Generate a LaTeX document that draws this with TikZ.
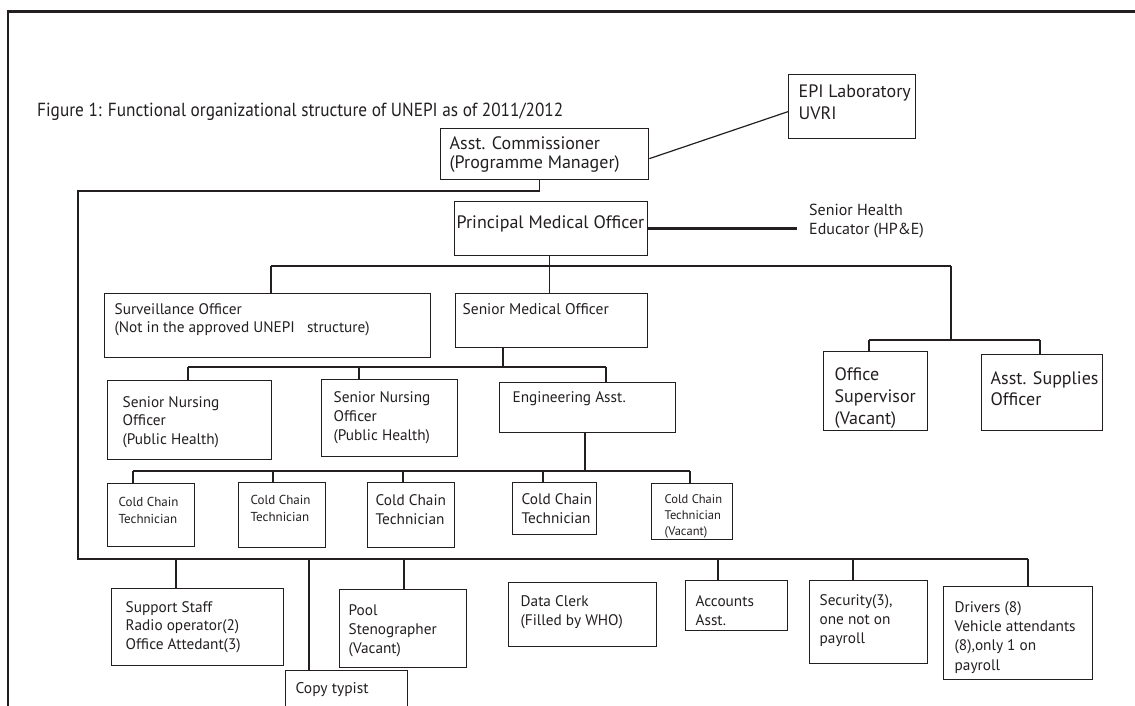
\documentclass[tikz,border=0pt]{standalone}
\usepackage{fontspec}
\usepackage{graphicx}
\setmainfont{PT Sans}
\usetikzlibrary{calc}
\definecolor{ink}{HTML}{231F20}
\hbadness=10000 \hfuzz=50pt \vbadness=10000 \vfuzz=50pt
% box content: #1 width, #2 height, #3 left pad, #4 first baseline from top, #5 font, #6 text
\newcommand\bx[6]{\parbox[t][#2][t]{#1}{#5\raggedright\leftskip=#3\relax\vspace*{\dimexpr#4-0.7\baselineskip\relax}\strut #6}}
\newcommand\fN{\fontsize{15.3}{19}\selectfont}
\newcommand\fNt{\fontsize{15.3}{18.5}\selectfont}
\newcommand\fL{\fontsize{18}{22}\selectfont}
\newcommand\fS{\fontsize{13}{16.5}\selectfont}
\newcommand\fXS{\fontsize{12.5}{16}\selectfont}
\begin{document}
\begin{tikzpicture}[x=1pt,y=-1pt,
  box/.style={draw=ink, line width=1.3pt, inner sep=0pt, anchor=north west, text=ink},
  plain/.style={inner sep=0pt, anchor=north west, text=ink},
  conn/.style={draw=ink, line width=1.2pt},
  thickconn/.style={draw=ink, line width=2.8pt}]
\useasboundingbox (0,0) rectangle (1135,705);
\clip (0,0) rectangle (1135,705);
% frame
\draw[ink, line width=2.6pt] (8,706) -- (8,11.5) -- (1136,11.5);
% title
\node[anchor=base west, inner sep=0pt, text=ink] (title) at (37,116)
  {\resizebox{526pt}{13.5pt}{\fontsize{18}{20}\selectfont Figure 1: Functional organizational structure of UNEPI as of 2011/2012}};
% top
\node[box] (epi) at (788,74) {\bx{127pt}{64pt}{10pt}{22.5pt}{\fL}{EPI Laboratory\\UVRI}};
\node[box] (ac) at (440,128) {\bx{208pt}{51pt}{9pt}{20.5pt}{\fontsize{18}{17.5}\selectfont}{Asst. Commissioner\\(Programme Manager)}};
\node[box] (pmo) at (454,201) {\bx{193pt}{54pt}{2pt}{26.5pt}{\fL}{Principal Medical Officer}};
\node[plain] (she) at (809,196) {\bx{130pt}{40pt}{0pt}{19pt}{\fontsize{16}{19}\selectfont}{Senior Health\\Educator (HP\&E)}};
% level 2
\node[box] (surv) at (104,293) {\bx{326pt}{64pt}{10pt}{20.6pt}{\fontsize{15.3}{18}\selectfont}{Surveillance Officer\\(Not in the approved UNEPI\ \ \ structure)}};
\node[box] (smo) at (455,293) {\bx{192pt}{54pt}{7pt}{20.6pt}{\fontsize{15.5}{18}\selectfont}{Senior Medical Officer}};
\node[box] (offsup) at (823,351) {\bx{104pt}{79pt}{11pt}{28.4pt}{\fL}{Office\\Supervisor\\(Vacant)}};
\node[box] (asup) at (981,354) {\bx{121pt}{76pt}{9pt}{29.4pt}{\fontsize{18}{21}\selectfont}{Asst. Supplies\\Officer}};
% level 3
\node[box] (sno1) at (107,380) {\bx{164pt}{79pt}{15pt}{26.6pt}{\fNt}{Senior Nursing\\Officer\\(Public Health)}};
\node[box] (sno2) at (321,379) {\bx{136pt}{77pt}{12pt}{22.6pt}{\fN}{Senior Nursing\\Officer\\(Public Health)}};
\node[box] (eng) at (499,382) {\bx{176pt}{50pt}{13pt}{19.6pt}{\fN}{Engineering Asst.}};
% cold chain
\node[box] (cc1) at (107,483) {\bx{87pt}{63pt}{11pt}{22.9pt}{\fS}{Cold Chain\\Technician}};
\node[box] (cc2) at (238,482) {\bx{87pt}{65pt}{12pt}{21.9pt}{\fS}{Cold Chain\\Technician}};
\node[box] (cc3) at (367,482) {\bx{87pt}{65pt}{8pt}{22.6pt}{\fN}{Cold Chain\\Technician}};
\node[box] (cc4) at (512,482) {\bx{84pt}{52pt}{9pt}{21.6pt}{\fN}{Cold Chain\\Technician}};
\node[box] (cc5) at (651,483) {\bx{81pt}{56pt}{13pt}{19.9pt}{\fXS}{Cold Chain\\Technician\\(Vacant)}};
% bottom row
\node[box] (support) at (111,588) {\bx{172pt}{77pt}{14pt}{23.6pt}{\fNt}{Support Staff\\Radio operator(2)\\Office Attedant(3)}};
\node[box] (copy) at (285,670) {\bx{122pt}{60pt}{10pt}{22.6pt}{\fontsize{15.5}{19}\selectfont}{Copy typist}};
\node[box] (pool) at (339,589) {\bx{127pt}{78pt}{9pt}{25.6pt}{\fN}{Pool\\Stenographer\\(Vacant)}};
\node[box] (data) at (508,582) {\bx{148pt}{64pt}{12pt}{23.6pt}{\fN}{Data Clerk\\(Filled by WHO)}};
\node[box] (acc) at (685,580) {\bx{102pt}{50pt}{10pt}{25.6pt}{\fN}{Accounts\\Asst.}};
\node[box] (sec) at (809,580) {\bx{118pt}{83pt}{10pt}{24.6pt}{\fN}{Security(3),\\one not on\\payroll}};
\node[box] (drv) at (943,586) {\bx{149pt}{93pt}{11pt}{25.6pt}{\fontsize{15.3}{19.3}\selectfont}{Drivers (8)\\Vehicle attendants\\(8),only 1 on\\payroll}};
% connectors: top
\draw[conn] ([yshift=-4.5pt]ac.east) -- ([yshift=-5pt]epi.west);
\draw[thickconn] (pmo.east) -- ([xshift=-12pt]pmo.east -| she.west);
\coordinate (railtop) at (78,191);
\coordinate (railbot) at (78,559);
\coordinate (busend) at (1028,559);
\draw[conn] ([xshift=-5pt]ac.south) |- (railtop) -- (railbot) -- (busend);
\draw[conn] ([xshift=-1.5pt]pmo.south) -- ([xshift=-1.5pt]pmo.south |- smo.north);
\coordinate (bL) at (271,266);
\coordinate (bR) at (951,266);
\draw[conn] (bL) -- (bR);
\draw[conn] (bL) -- (bL |- surv.north);
\coordinate (sbL) at (869,340);
\coordinate (sbR) at (1040,340);
\draw[conn] (bR) -- (bR |- sbL);
\draw[conn] (sbL) -- (sbR);
\draw[conn] (sbL) -- (sbL |- offsup.north);
\draw[conn] (sbR) -- (sbR |- asup.north);
% SMO subtree
\coordinate (m0) at (503,367);
\draw[conn] (m0 |- smo.south) -- (m0);
\coordinate (mL) at (188,367);
\coordinate (mM) at (359,367);
\coordinate (mR) at (606,367);
\draw[conn] (mL) -- (mR);
\draw[conn] (mL) -- (mL |- sno1.north);
\draw[conn] (mM) -- (mM |- sno2.north);
\draw[conn] (mR) -- (mR |- eng.north);
% cold chain subtree
\coordinate (e0) at (585,471);
\draw[conn] (e0 |- eng.south) -- (e0);
\coordinate (c1) at (133,471);
\coordinate (c2) at (273,471);
\coordinate (c3) at (403,471);
\coordinate (c4) at (543,471);
\coordinate (c5) at (690,471);
\draw[conn] (c1) -- (c5);
\draw[conn] (c1) -- (c1 |- cc1.north);
\draw[conn] (c2) -- (c2 |- cc2.north);
\draw[conn] (c3) -- (c3 |- cc3.north);
\draw[conn] (c4) -- (c4 |- cc4.north);
\draw[conn] (c5) -- (c5 |- cc5.north);
% bottom bus drops
\foreach \n/\x in {support/176, copy/309, pool/404, acc/718, sec/853, drv/1028}{
  \coordinate (b\n) at (\x,559);
  \draw[conn] (b\n) -- (b\n |- \n.north);
}
\end{tikzpicture}
\end{document}
